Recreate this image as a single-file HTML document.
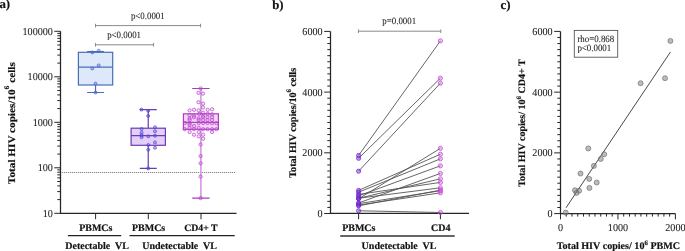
<!DOCTYPE html>
<html><head><meta charset="utf-8"><style>html,body{margin:0;padding:0;background:#fff;overflow:hidden;width:685px;height:251px}svg{display:block;will-change:transform}text{text-rendering:geometricPrecision;font-family:"Liberation Serif",serif;stroke:#161616;stroke-width:0.06px}text[font-weight=bold]{stroke-width:0.18px}</style></head>
<body><svg width="685" height="251" viewBox="0 0 685 251"><path d="M60.5 31.30V213.3H236.5" stroke="#262626" stroke-width="1.25" fill="none"/>
<path d="M54.3 213.30H60.5 M57.3 199.60H60.5 M57.3 191.59H60.5 M57.3 185.91H60.5 M57.3 181.50H60.5 M57.3 177.89H60.5 M57.3 174.85H60.5 M57.3 172.21H60.5 M57.3 169.88H60.5 M54.3 167.80H60.5 M57.3 154.10H60.5 M57.3 146.09H60.5 M57.3 140.41H60.5 M57.3 136.00H60.5 M57.3 132.39H60.5 M57.3 129.35H60.5 M57.3 126.71H60.5 M57.3 124.38H60.5 M54.3 122.30H60.5 M57.3 108.60H60.5 M57.3 100.59H60.5 M57.3 94.91H60.5 M57.3 90.50H60.5 M57.3 86.89H60.5 M57.3 83.85H60.5 M57.3 81.21H60.5 M57.3 78.88H60.5 M54.3 76.80H60.5 M57.3 63.10H60.5 M57.3 55.09H60.5 M57.3 49.41H60.5 M57.3 45.00H60.5 M57.3 41.39H60.5 M57.3 38.35H60.5 M57.3 35.71H60.5 M57.3 33.38H60.5 M54.3 31.30H60.5" stroke="#262626" stroke-width="1" fill="none"/>
<text transform="translate(52.90 216.90) scale(1 1.05)" font-family="Liberation Serif" font-size="10.15" text-anchor="end" fill="#1a1a1a">10</text>
<text transform="translate(52.90 171.40) scale(1 1.05)" font-family="Liberation Serif" font-size="10.15" text-anchor="end" fill="#1a1a1a">100</text>
<text transform="translate(52.90 125.90) scale(1 1.05)" font-family="Liberation Serif" font-size="10.15" text-anchor="end" fill="#1a1a1a">1000</text>
<text transform="translate(52.90 80.40) scale(1 1.05)" font-family="Liberation Serif" font-size="10.15" text-anchor="end" fill="#1a1a1a">10000</text>
<text transform="translate(52.90 34.90) scale(1 1.05)" font-family="Liberation Serif" font-size="10.15" text-anchor="end" fill="#1a1a1a">100000</text>
<path d="M95.6 213.3V219.2M148.3 213.3V219.2M201 213.3V219.2" stroke="#262626" stroke-width="1" fill="none"/>
<text x="95.8" y="230.6" font-family="Liberation Serif" font-weight="bold" font-size="10" text-anchor="middle" fill="#111">PBMCs</text>
<text x="148.6" y="230.6" font-family="Liberation Serif" font-weight="bold" font-size="10" text-anchor="middle" fill="#111">PBMCs</text>
<text x="200.9" y="230.6" font-family="Liberation Serif" font-weight="bold" font-size="9.8" text-anchor="middle" fill="#111">CD4+ T</text>
<path d="M67.9 235.6H121.2M129.5 235.6H234.7" stroke="#222" stroke-width="1.1" fill="none"/>
<text x="97.1" y="248.6" font-family="Liberation Serif" font-weight="bold" font-size="10" text-anchor="middle" fill="#111" xml:space="preserve">Detectable  VL</text>
<text x="179.6" y="248.6" font-family="Liberation Serif" font-weight="bold" font-size="10" text-anchor="middle" fill="#111" xml:space="preserve">Undetectable  VL</text>
<text transform="translate(14.7 123.1) rotate(-90) scale(1.12 1)" font-family="Liberation Serif" font-weight="bold" font-size="10" text-anchor="middle" fill="#111">Total HIV copies/10<tspan dy="-5.3" font-size="6.8">6</tspan><tspan dy="5.3"> cells</tspan></text>
<text x="-0.6" y="8.4" font-family="Liberation Serif" font-weight="bold" font-size="12.8" fill="#111">a)</text>
<path d="M61.9 172.5H235.5" stroke="#777" stroke-width="0.9" stroke-dasharray="1.2 0.8" fill="none"/>
<path d="M95.5 25.6H200.6M95.5 23.8V27.4M200.6 23.8V27.4M95.5 44.8H153.6M95.5 43V46.6M153.6 43V46.6" stroke="#8a8a8a" stroke-width="1" fill="none"/>
<text transform="translate(147.80 19.00) scale(1 1.08)" font-family="Liberation Serif" font-size="8.9" text-anchor="middle" fill="#1a1a1a">p&lt;0.0001</text>
<text transform="translate(124.10 38.20) scale(1 1.08)" font-family="Liberation Serif" font-size="8.9" text-anchor="middle" fill="#1a1a1a">p&lt;0.0001</text>
<path d="M95.55 51.5V52.3M95.55 85.0V92.5" stroke="#4a6eb4" stroke-width="1.2" fill="none"/><path d="M87.14999999999999 51.5H103.95M87.14999999999999 92.5H103.95" stroke="#4a6eb4" stroke-width="1.2" fill="none"/><rect x="78.4" y="52.3" width="34.3" height="32.7" fill="#dde9fa" stroke="#4a6eb4" stroke-width="1.2"/><path d="M78.4 67.2H112.69999999999999" stroke="#4a6eb4" stroke-width="1.2" fill="none"/>
<circle cx="92.30" cy="52.40" r="1.5" fill="#5a6ae6" stroke="#4c62d0" stroke-width="0.8" fill-opacity="0.38" stroke-opacity="0.9"/><circle cx="98.70" cy="50.80" r="1.5" fill="#5a6ae6" stroke="#4c62d0" stroke-width="0.8" fill-opacity="0.38" stroke-opacity="0.9"/><circle cx="98.70" cy="65.40" r="1.5" fill="#5a6ae6" stroke="#4c62d0" stroke-width="0.8" fill-opacity="0.38" stroke-opacity="0.9"/><circle cx="92.30" cy="68.50" r="1.5" fill="#5a6ae6" stroke="#4c62d0" stroke-width="0.8" fill-opacity="0.38" stroke-opacity="0.9"/><circle cx="95.50" cy="83.60" r="1.5" fill="#5a6ae6" stroke="#4c62d0" stroke-width="0.8" fill-opacity="0.38" stroke-opacity="0.9"/><circle cx="95.50" cy="92.50" r="1.5" fill="#5a6ae6" stroke="#4c62d0" stroke-width="0.8" fill-opacity="0.38" stroke-opacity="0.9"/>
<path d="M148.25 109.6V128.2M148.25 145.3V168.4" stroke="#6a3db0" stroke-width="1.2" fill="none"/><path d="M139.75 109.6H156.75M139.75 168.4H156.75" stroke="#6a3db0" stroke-width="1.2" fill="none"/><rect x="131.1" y="128.2" width="34.3" height="17.100000000000023" fill="#e4cff8" stroke="#6a3db0" stroke-width="1.2"/><path d="M131.1 135.6H165.4" stroke="#6a3db0" stroke-width="1.2" fill="none"/>
<circle cx="148.20" cy="168.40" r="1.5" fill="#5a4ee0" stroke="#5246d6" stroke-width="0.8" fill-opacity="0.35" stroke-opacity="0.9"/><circle cx="141.40" cy="109.60" r="1.5" fill="#5a4ee0" stroke="#5246d6" stroke-width="0.8" fill-opacity="0.35" stroke-opacity="0.9"/><circle cx="148.20" cy="110.80" r="1.5" fill="#5a4ee0" stroke="#5246d6" stroke-width="0.8" fill-opacity="0.35" stroke-opacity="0.9"/><circle cx="148.20" cy="115.90" r="1.5" fill="#5a4ee0" stroke="#5246d6" stroke-width="0.8" fill-opacity="0.35" stroke-opacity="0.9"/><circle cx="141.60" cy="129.00" r="1.5" fill="#5a4ee0" stroke="#5246d6" stroke-width="0.8" fill-opacity="0.35" stroke-opacity="0.9"/><circle cx="141.60" cy="132.70" r="1.5" fill="#5a4ee0" stroke="#5246d6" stroke-width="0.8" fill-opacity="0.35" stroke-opacity="0.9"/><circle cx="141.60" cy="135.20" r="1.5" fill="#5a4ee0" stroke="#5246d6" stroke-width="0.8" fill-opacity="0.35" stroke-opacity="0.9"/><circle cx="141.60" cy="137.20" r="1.5" fill="#5a4ee0" stroke="#5246d6" stroke-width="0.8" fill-opacity="0.35" stroke-opacity="0.9"/><circle cx="148.30" cy="136.30" r="1.5" fill="#5a4ee0" stroke="#5246d6" stroke-width="0.8" fill-opacity="0.35" stroke-opacity="0.9"/><circle cx="155.00" cy="127.30" r="1.5" fill="#5a4ee0" stroke="#5246d6" stroke-width="0.8" fill-opacity="0.35" stroke-opacity="0.9"/><circle cx="155.00" cy="131.30" r="1.5" fill="#5a4ee0" stroke="#5246d6" stroke-width="0.8" fill-opacity="0.35" stroke-opacity="0.9"/><circle cx="155.00" cy="135.70" r="1.5" fill="#5a4ee0" stroke="#5246d6" stroke-width="0.8" fill-opacity="0.35" stroke-opacity="0.9"/><circle cx="148.30" cy="145.00" r="1.5" fill="#5a4ee0" stroke="#5246d6" stroke-width="0.8" fill-opacity="0.35" stroke-opacity="0.9"/><circle cx="148.30" cy="149.70" r="1.5" fill="#5a4ee0" stroke="#5246d6" stroke-width="0.8" fill-opacity="0.35" stroke-opacity="0.9"/><circle cx="155.00" cy="142.40" r="1.5" fill="#5a4ee0" stroke="#5246d6" stroke-width="0.8" fill-opacity="0.35" stroke-opacity="0.9"/><circle cx="155.00" cy="147.70" r="1.5" fill="#5a4ee0" stroke="#5246d6" stroke-width="0.8" fill-opacity="0.35" stroke-opacity="0.9"/>
<path d="M200.9 88.5V113.8M200.9 129.3V198.1" stroke="#d49ade" stroke-width="1.6" fill="none"/><path d="M192.20000000000002 88.5H209.6M192.20000000000002 198.1H209.6" stroke="#a83cc0" stroke-width="1.2" fill="none"/><rect x="183.4" y="113.8" width="35.0" height="15.500000000000014" fill="#f6d4f6" stroke="#ad3fc2" stroke-width="1.2"/><path d="M183.4 122.4H218.4" stroke="#ad3fc2" stroke-width="1.2" fill="none"/>
<circle cx="200.70" cy="88.50" r="1.65" fill="#d455e2" stroke="#b444cc" stroke-width="0.85" fill-opacity="0.16" stroke-opacity="0.85"/><circle cx="198.50" cy="92.90" r="1.65" fill="#d455e2" stroke="#b444cc" stroke-width="0.85" fill-opacity="0.16" stroke-opacity="0.85"/><circle cx="203.00" cy="93.60" r="1.65" fill="#d455e2" stroke="#b444cc" stroke-width="0.85" fill-opacity="0.16" stroke-opacity="0.85"/><circle cx="198.50" cy="102.20" r="1.65" fill="#d455e2" stroke="#b444cc" stroke-width="0.85" fill-opacity="0.16" stroke-opacity="0.85"/><circle cx="203.00" cy="103.70" r="1.65" fill="#d455e2" stroke="#b444cc" stroke-width="0.85" fill-opacity="0.16" stroke-opacity="0.85"/><circle cx="203.00" cy="107.40" r="1.65" fill="#d455e2" stroke="#b444cc" stroke-width="0.85" fill-opacity="0.16" stroke-opacity="0.85"/><circle cx="189.60" cy="110.40" r="1.65" fill="#d455e2" stroke="#b444cc" stroke-width="0.85" fill-opacity="0.16" stroke-opacity="0.85"/><circle cx="194.00" cy="109.80" r="1.65" fill="#d455e2" stroke="#b444cc" stroke-width="0.85" fill-opacity="0.16" stroke-opacity="0.85"/><circle cx="198.60" cy="110.40" r="1.65" fill="#d455e2" stroke="#b444cc" stroke-width="0.85" fill-opacity="0.16" stroke-opacity="0.85"/><circle cx="207.70" cy="109.80" r="1.65" fill="#d455e2" stroke="#b444cc" stroke-width="0.85" fill-opacity="0.16" stroke-opacity="0.85"/><circle cx="212.10" cy="109.30" r="1.65" fill="#d455e2" stroke="#b444cc" stroke-width="0.85" fill-opacity="0.16" stroke-opacity="0.85"/><circle cx="203.10" cy="112.70" r="1.65" fill="#d455e2" stroke="#b444cc" stroke-width="0.85" fill-opacity="0.16" stroke-opacity="0.85"/><circle cx="199.10" cy="113.90" r="1.65" fill="#d455e2" stroke="#b444cc" stroke-width="0.85" fill-opacity="0.16" stroke-opacity="0.85"/><circle cx="207.70" cy="113.90" r="1.65" fill="#d455e2" stroke="#b444cc" stroke-width="0.85" fill-opacity="0.16" stroke-opacity="0.85"/><circle cx="212.10" cy="114.30" r="1.65" fill="#d455e2" stroke="#b444cc" stroke-width="0.85" fill-opacity="0.16" stroke-opacity="0.85"/><circle cx="189.60" cy="115.30" r="1.65" fill="#d455e2" stroke="#b444cc" stroke-width="0.85" fill-opacity="0.16" stroke-opacity="0.85"/><circle cx="194.00" cy="115.50" r="1.65" fill="#d455e2" stroke="#b444cc" stroke-width="0.85" fill-opacity="0.16" stroke-opacity="0.85"/><circle cx="203.10" cy="115.60" r="1.65" fill="#d455e2" stroke="#b444cc" stroke-width="0.85" fill-opacity="0.16" stroke-opacity="0.85"/><circle cx="194.00" cy="117.20" r="1.65" fill="#d455e2" stroke="#b444cc" stroke-width="0.85" fill-opacity="0.16" stroke-opacity="0.85"/><circle cx="203.10" cy="117.20" r="1.65" fill="#d455e2" stroke="#b444cc" stroke-width="0.85" fill-opacity="0.16" stroke-opacity="0.85"/><circle cx="207.50" cy="117.20" r="1.65" fill="#d455e2" stroke="#b444cc" stroke-width="0.85" fill-opacity="0.16" stroke-opacity="0.85"/><circle cx="212.10" cy="117.20" r="1.65" fill="#d455e2" stroke="#b444cc" stroke-width="0.85" fill-opacity="0.16" stroke-opacity="0.85"/><circle cx="189.60" cy="118.40" r="1.65" fill="#d455e2" stroke="#b444cc" stroke-width="0.85" fill-opacity="0.16" stroke-opacity="0.85"/><circle cx="198.70" cy="118.40" r="1.65" fill="#d455e2" stroke="#b444cc" stroke-width="0.85" fill-opacity="0.16" stroke-opacity="0.85"/><circle cx="189.60" cy="120.00" r="1.65" fill="#d455e2" stroke="#b444cc" stroke-width="0.85" fill-opacity="0.16" stroke-opacity="0.85"/><circle cx="198.70" cy="120.00" r="1.65" fill="#d455e2" stroke="#b444cc" stroke-width="0.85" fill-opacity="0.16" stroke-opacity="0.85"/><circle cx="203.10" cy="120.00" r="1.65" fill="#d455e2" stroke="#b444cc" stroke-width="0.85" fill-opacity="0.16" stroke-opacity="0.85"/><circle cx="207.50" cy="120.00" r="1.65" fill="#d455e2" stroke="#b444cc" stroke-width="0.85" fill-opacity="0.16" stroke-opacity="0.85"/><circle cx="212.10" cy="120.00" r="1.65" fill="#d455e2" stroke="#b444cc" stroke-width="0.85" fill-opacity="0.16" stroke-opacity="0.85"/><circle cx="184.80" cy="123.00" r="1.65" fill="#d455e2" stroke="#b444cc" stroke-width="0.85" fill-opacity="0.16" stroke-opacity="0.85"/><circle cx="189.60" cy="123.20" r="1.65" fill="#d455e2" stroke="#b444cc" stroke-width="0.85" fill-opacity="0.16" stroke-opacity="0.85"/><circle cx="198.70" cy="123.00" r="1.65" fill="#d455e2" stroke="#b444cc" stroke-width="0.85" fill-opacity="0.16" stroke-opacity="0.85"/><circle cx="203.10" cy="123.00" r="1.65" fill="#d455e2" stroke="#b444cc" stroke-width="0.85" fill-opacity="0.16" stroke-opacity="0.85"/><circle cx="207.50" cy="123.00" r="1.65" fill="#d455e2" stroke="#b444cc" stroke-width="0.85" fill-opacity="0.16" stroke-opacity="0.85"/><circle cx="212.10" cy="123.20" r="1.65" fill="#d455e2" stroke="#b444cc" stroke-width="0.85" fill-opacity="0.16" stroke-opacity="0.85"/><circle cx="216.40" cy="123.20" r="1.65" fill="#d455e2" stroke="#b444cc" stroke-width="0.85" fill-opacity="0.16" stroke-opacity="0.85"/><circle cx="194.00" cy="126.00" r="1.65" fill="#d455e2" stroke="#b444cc" stroke-width="0.85" fill-opacity="0.16" stroke-opacity="0.85"/><circle cx="189.60" cy="125.00" r="1.65" fill="#d455e2" stroke="#b444cc" stroke-width="0.85" fill-opacity="0.16" stroke-opacity="0.85"/><circle cx="189.60" cy="128.00" r="1.65" fill="#d455e2" stroke="#b444cc" stroke-width="0.85" fill-opacity="0.16" stroke-opacity="0.85"/><circle cx="198.70" cy="128.00" r="1.65" fill="#d455e2" stroke="#b444cc" stroke-width="0.85" fill-opacity="0.16" stroke-opacity="0.85"/><circle cx="184.80" cy="129.20" r="1.65" fill="#d455e2" stroke="#b444cc" stroke-width="0.85" fill-opacity="0.16" stroke-opacity="0.85"/><circle cx="194.00" cy="129.20" r="1.65" fill="#d455e2" stroke="#b444cc" stroke-width="0.85" fill-opacity="0.16" stroke-opacity="0.85"/><circle cx="203.10" cy="129.20" r="1.65" fill="#d455e2" stroke="#b444cc" stroke-width="0.85" fill-opacity="0.16" stroke-opacity="0.85"/><circle cx="207.50" cy="129.20" r="1.65" fill="#d455e2" stroke="#b444cc" stroke-width="0.85" fill-opacity="0.16" stroke-opacity="0.85"/><circle cx="212.10" cy="129.20" r="1.65" fill="#d455e2" stroke="#b444cc" stroke-width="0.85" fill-opacity="0.16" stroke-opacity="0.85"/><circle cx="216.40" cy="129.20" r="1.65" fill="#d455e2" stroke="#b444cc" stroke-width="0.85" fill-opacity="0.16" stroke-opacity="0.85"/><circle cx="189.60" cy="132.00" r="1.65" fill="#d455e2" stroke="#b444cc" stroke-width="0.85" fill-opacity="0.16" stroke-opacity="0.85"/><circle cx="198.70" cy="132.00" r="1.65" fill="#d455e2" stroke="#b444cc" stroke-width="0.85" fill-opacity="0.16" stroke-opacity="0.85"/><circle cx="212.10" cy="132.00" r="1.65" fill="#d455e2" stroke="#b444cc" stroke-width="0.85" fill-opacity="0.16" stroke-opacity="0.85"/><circle cx="194.00" cy="134.70" r="1.65" fill="#d455e2" stroke="#b444cc" stroke-width="0.85" fill-opacity="0.16" stroke-opacity="0.85"/><circle cx="203.10" cy="134.70" r="1.65" fill="#d455e2" stroke="#b444cc" stroke-width="0.85" fill-opacity="0.16" stroke-opacity="0.85"/><circle cx="198.70" cy="136.30" r="1.65" fill="#d455e2" stroke="#b444cc" stroke-width="0.85" fill-opacity="0.16" stroke-opacity="0.85"/><circle cx="203.10" cy="138.70" r="1.65" fill="#d455e2" stroke="#b444cc" stroke-width="0.85" fill-opacity="0.16" stroke-opacity="0.85"/><circle cx="200.60" cy="144.50" r="1.65" fill="#d455e2" stroke="#b444cc" stroke-width="0.85" fill-opacity="0.16" stroke-opacity="0.85"/><circle cx="200.60" cy="156.10" r="1.65" fill="#d455e2" stroke="#b444cc" stroke-width="0.85" fill-opacity="0.16" stroke-opacity="0.85"/><circle cx="200.60" cy="163.30" r="1.65" fill="#d455e2" stroke="#b444cc" stroke-width="0.85" fill-opacity="0.16" stroke-opacity="0.85"/><circle cx="200.60" cy="176.60" r="1.65" fill="#d455e2" stroke="#b444cc" stroke-width="0.85" fill-opacity="0.16" stroke-opacity="0.85"/><circle cx="200.60" cy="198.10" r="1.65" fill="#d455e2" stroke="#b444cc" stroke-width="0.85" fill-opacity="0.16" stroke-opacity="0.85"/>
<path d="M330.5 31.4V213.3H469" stroke="#262626" stroke-width="1.25" fill="none"/>
<path d="M324.2 213.50H330.5 M327.3 207.43H330.5 M327.3 201.36H330.5 M327.3 195.29H330.5 M327.3 189.22H330.5 M327.3 183.15H330.5 M327.3 177.08H330.5 M327.3 171.01H330.5 M327.3 164.94H330.5 M327.3 158.87H330.5 M324.2 152.80H330.5 M327.3 146.73H330.5 M327.3 140.66H330.5 M327.3 134.59H330.5 M327.3 128.52H330.5 M327.3 122.45H330.5 M327.3 116.38H330.5 M327.3 110.31H330.5 M327.3 104.24H330.5 M327.3 98.17H330.5 M324.2 92.10H330.5 M327.3 86.03H330.5 M327.3 79.96H330.5 M327.3 73.89H330.5 M327.3 67.82H330.5 M327.3 61.75H330.5 M327.3 55.68H330.5 M327.3 49.61H330.5 M327.3 43.54H330.5 M327.3 37.47H330.5 M324.2 31.40H330.5" stroke="#262626" stroke-width="1" fill="none"/>
<text transform="translate(322.60 217.10) scale(1 1.05)" font-family="Liberation Serif" font-size="10.15" text-anchor="end" fill="#1a1a1a">0</text>
<text transform="translate(322.60 156.40) scale(1 1.05)" font-family="Liberation Serif" font-size="10.15" text-anchor="end" fill="#1a1a1a">2000</text>
<text transform="translate(322.60 95.70) scale(1 1.05)" font-family="Liberation Serif" font-size="10.15" text-anchor="end" fill="#1a1a1a">4000</text>
<text transform="translate(322.60 35.00) scale(1 1.05)" font-family="Liberation Serif" font-size="10.15" text-anchor="end" fill="#1a1a1a">6000</text>
<path d="M358.6 213.3V219.2M440.4 213.3V219.2" stroke="#262626" stroke-width="1" fill="none"/>
<text x="358.8" y="230.5" font-family="Liberation Serif" font-weight="bold" font-size="10" text-anchor="middle" fill="#111">PBMCs</text>
<text x="440.7" y="230.5" font-family="Liberation Serif" font-weight="bold" font-size="10" text-anchor="middle" fill="#111">CD4</text>
<path d="M340.2 236H454.7" stroke="#333" stroke-width="1.3" fill="none"/>
<text x="399" y="249" font-family="Liberation Serif" font-weight="bold" font-size="10" text-anchor="middle" fill="#111" xml:space="preserve">Undetectable  VL</text>
<text transform="translate(295.7 122.8) rotate(-90) scale(1.01 1)" font-family="Liberation Serif" font-weight="bold" font-size="10" text-anchor="middle" fill="#111">Total HIV copies/10<tspan dy="-5.1" font-size="6.8">6</tspan><tspan dy="5.1"> cells</tspan></text>
<text x="272.2" y="8.5" font-family="Liberation Serif" font-weight="bold" font-size="12.8" fill="#111">b)</text>
<path d="M358.4 31.2H440.8M358.4 29.4V33M440.8 29.4V33" stroke="#8a8a8a" stroke-width="1" fill="none"/>
<text transform="translate(399.20 24.40) scale(1 1.08)" font-family="Liberation Serif" font-size="8.9" text-anchor="middle" fill="#1a1a1a">p=0.0001</text>
<path d="M358.6 210.75L440.4 212.50M358.6 205.85L440.4 190.13M358.6 203.67L440.4 190.71M358.6 205.06L440.4 192.80M358.6 198.23L440.4 187.82M358.6 194.38L440.4 182.42M358.6 198.32L440.4 178.81M358.6 202.94L440.4 173.44M358.6 195.87L440.4 165.82M358.6 192.22L440.4 158.84M358.6 190.40L440.4 154.23M358.6 198.81L440.4 148.34M358.6 171.19L440.4 83.18M358.6 158.29L440.4 78.17M358.6 155.44L440.4 40.90" stroke="#555" stroke-width="0.9" fill="none"/>
<circle cx="358.60" cy="210.75" r="2.1" fill="#7d2cdc" stroke="#6c22cc" stroke-width="0.8" fill-opacity="0.45" stroke-opacity="0.9"/><circle cx="358.60" cy="205.85" r="2.1" fill="#7d2cdc" stroke="#6c22cc" stroke-width="0.8" fill-opacity="0.45" stroke-opacity="0.9"/><circle cx="358.60" cy="203.67" r="2.1" fill="#7d2cdc" stroke="#6c22cc" stroke-width="0.8" fill-opacity="0.45" stroke-opacity="0.9"/><circle cx="358.60" cy="205.06" r="2.1" fill="#7d2cdc" stroke="#6c22cc" stroke-width="0.8" fill-opacity="0.45" stroke-opacity="0.9"/><circle cx="358.60" cy="198.23" r="2.1" fill="#7d2cdc" stroke="#6c22cc" stroke-width="0.8" fill-opacity="0.45" stroke-opacity="0.9"/><circle cx="358.60" cy="194.38" r="2.1" fill="#7d2cdc" stroke="#6c22cc" stroke-width="0.8" fill-opacity="0.45" stroke-opacity="0.9"/><circle cx="358.60" cy="198.32" r="2.1" fill="#7d2cdc" stroke="#6c22cc" stroke-width="0.8" fill-opacity="0.45" stroke-opacity="0.9"/><circle cx="358.60" cy="202.94" r="2.1" fill="#7d2cdc" stroke="#6c22cc" stroke-width="0.8" fill-opacity="0.45" stroke-opacity="0.9"/><circle cx="358.60" cy="195.87" r="2.1" fill="#7d2cdc" stroke="#6c22cc" stroke-width="0.8" fill-opacity="0.45" stroke-opacity="0.9"/><circle cx="358.60" cy="192.22" r="2.1" fill="#7d2cdc" stroke="#6c22cc" stroke-width="0.8" fill-opacity="0.45" stroke-opacity="0.9"/><circle cx="358.60" cy="190.40" r="2.1" fill="#7d2cdc" stroke="#6c22cc" stroke-width="0.8" fill-opacity="0.45" stroke-opacity="0.9"/><circle cx="358.60" cy="198.81" r="2.1" fill="#7d2cdc" stroke="#6c22cc" stroke-width="0.8" fill-opacity="0.45" stroke-opacity="0.9"/><circle cx="358.60" cy="171.19" r="2.1" fill="#7d2cdc" stroke="#6c22cc" stroke-width="0.8" fill-opacity="0.45" stroke-opacity="0.9"/><circle cx="358.60" cy="158.29" r="2.1" fill="#7d2cdc" stroke="#6c22cc" stroke-width="0.8" fill-opacity="0.45" stroke-opacity="0.9"/><circle cx="358.60" cy="155.44" r="2.1" fill="#7d2cdc" stroke="#6c22cc" stroke-width="0.8" fill-opacity="0.45" stroke-opacity="0.9"/>
<circle cx="440.40" cy="212.50" r="2.1" fill="#d455e2" stroke="#c04ad4" stroke-width="0.85" fill-opacity="0.33" stroke-opacity="0.9"/><circle cx="440.40" cy="190.13" r="2.1" fill="#d455e2" stroke="#c04ad4" stroke-width="0.85" fill-opacity="0.33" stroke-opacity="0.9"/><circle cx="440.40" cy="190.71" r="2.1" fill="#d455e2" stroke="#c04ad4" stroke-width="0.85" fill-opacity="0.33" stroke-opacity="0.9"/><circle cx="440.40" cy="192.80" r="2.1" fill="#d455e2" stroke="#c04ad4" stroke-width="0.85" fill-opacity="0.33" stroke-opacity="0.9"/><circle cx="440.40" cy="187.82" r="2.1" fill="#d455e2" stroke="#c04ad4" stroke-width="0.85" fill-opacity="0.33" stroke-opacity="0.9"/><circle cx="440.40" cy="182.42" r="2.1" fill="#d455e2" stroke="#c04ad4" stroke-width="0.85" fill-opacity="0.33" stroke-opacity="0.9"/><circle cx="440.40" cy="178.81" r="2.1" fill="#d455e2" stroke="#c04ad4" stroke-width="0.85" fill-opacity="0.33" stroke-opacity="0.9"/><circle cx="440.40" cy="173.44" r="2.1" fill="#d455e2" stroke="#c04ad4" stroke-width="0.85" fill-opacity="0.33" stroke-opacity="0.9"/><circle cx="440.40" cy="165.82" r="2.1" fill="#d455e2" stroke="#c04ad4" stroke-width="0.85" fill-opacity="0.33" stroke-opacity="0.9"/><circle cx="440.40" cy="158.84" r="2.1" fill="#d455e2" stroke="#c04ad4" stroke-width="0.85" fill-opacity="0.33" stroke-opacity="0.9"/><circle cx="440.40" cy="154.23" r="2.1" fill="#d455e2" stroke="#c04ad4" stroke-width="0.85" fill-opacity="0.33" stroke-opacity="0.9"/><circle cx="440.40" cy="148.34" r="2.1" fill="#d455e2" stroke="#c04ad4" stroke-width="0.85" fill-opacity="0.33" stroke-opacity="0.9"/><circle cx="440.40" cy="83.18" r="2.1" fill="#d455e2" stroke="#c04ad4" stroke-width="0.85" fill-opacity="0.33" stroke-opacity="0.9"/><circle cx="440.40" cy="78.17" r="2.1" fill="#d455e2" stroke="#c04ad4" stroke-width="0.85" fill-opacity="0.33" stroke-opacity="0.9"/><circle cx="440.40" cy="40.90" r="2.1" fill="#d455e2" stroke="#c04ad4" stroke-width="0.85" fill-opacity="0.33" stroke-opacity="0.9"/>
<path d="M560.5 31.4V213.6H675.4" stroke="#262626" stroke-width="1.25" fill="none"/>
<path d="M554.2 213.60H560.5 M557.3 207.53H560.5 M557.3 201.45H560.5 M557.3 195.38H560.5 M557.3 189.31H560.5 M557.3 183.23H560.5 M557.3 177.16H560.5 M557.3 171.09H560.5 M557.3 165.01H560.5 M557.3 158.94H560.5 M554.2 152.87H560.5 M557.3 146.79H560.5 M557.3 140.72H560.5 M557.3 134.65H560.5 M557.3 128.57H560.5 M557.3 122.50H560.5 M557.3 116.43H560.5 M557.3 110.35H560.5 M557.3 104.28H560.5 M557.3 98.21H560.5 M554.2 92.13H560.5 M557.3 86.06H560.5 M557.3 79.99H560.5 M557.3 73.91H560.5 M557.3 67.84H560.5 M557.3 61.77H560.5 M557.3 55.69H560.5 M557.3 49.62H560.5 M557.3 43.55H560.5 M557.3 37.47H560.5 M554.2 31.40H560.5 M560.50 213.6V219.4 M566.25 213.6V216.6 M571.99 213.6V216.6 M577.74 213.6V216.6 M583.48 213.6V216.6 M589.23 213.6V216.6 M594.97 213.6V216.6 M600.72 213.6V216.6 M606.46 213.6V216.6 M612.21 213.6V216.6 M617.95 213.6V219.4 M623.70 213.6V216.6 M629.44 213.6V216.6 M635.18 213.6V216.6 M640.93 213.6V216.6 M646.67 213.6V216.6 M652.42 213.6V216.6 M658.16 213.6V216.6 M663.91 213.6V216.6 M669.65 213.6V216.6 M675.40 213.6V219.4" stroke="#262626" stroke-width="1" fill="none"/>
<text transform="translate(552.60 217.20) scale(1 1.05)" font-family="Liberation Serif" font-size="10.15" text-anchor="end" fill="#1a1a1a">0</text>
<text transform="translate(552.60 156.47) scale(1 1.05)" font-family="Liberation Serif" font-size="10.15" text-anchor="end" fill="#1a1a1a">2000</text>
<text transform="translate(552.60 95.73) scale(1 1.05)" font-family="Liberation Serif" font-size="10.15" text-anchor="end" fill="#1a1a1a">4000</text>
<text transform="translate(552.60 35.00) scale(1 1.05)" font-family="Liberation Serif" font-size="10.15" text-anchor="end" fill="#1a1a1a">6000</text>
<text transform="translate(560.50 230.80) scale(1 1.05)" font-family="Liberation Serif" font-size="10.15" text-anchor="middle" fill="#1a1a1a">0</text>
<text transform="translate(617.95 230.80) scale(1 1.05)" font-family="Liberation Serif" font-size="10.15" text-anchor="middle" fill="#1a1a1a">1000</text>
<text transform="translate(675.40 230.80) scale(1 1.05)" font-family="Liberation Serif" font-size="10.15" text-anchor="middle" fill="#1a1a1a">2000</text>
<text x="618.4" y="248.9" font-family="Liberation Serif" font-weight="bold" font-size="10.1" text-anchor="middle" fill="#111">Total HIV copies/ 10<tspan dy="-4.4" font-size="6.8">6</tspan><tspan dy="4.4"> PBMC</tspan></text>
<text transform="translate(525.1 123) rotate(-90) scale(1.025 1)" font-family="Liberation Serif" font-weight="bold" font-size="9.8" text-anchor="middle" fill="#111">Total HIV copies/ 10<tspan dy="-4.4" font-size="6.7">6</tspan><tspan dy="4.4"> CD4+ T</tspan></text>
<text x="500.6" y="8.5" font-family="Liberation Serif" font-weight="bold" font-size="12.8" fill="#111">c)</text>
<rect x="574.3" y="30.4" width="43.4" height="26.8" fill="#fff" stroke="#555" stroke-width="0.9"/>
<text transform="translate(577.40 41.60) scale(1 1.08)" font-family="Liberation Serif" font-size="8.9" text-anchor="start" fill="#1a1a1a">rho=0.868</text>
<text transform="translate(577.40 51.00) scale(1 1.08)" font-family="Liberation Serif" font-size="8.9" text-anchor="start" fill="#1a1a1a">p&lt;0.0001</text>
<path d="M566 207.8L670.4 52.1" stroke="#333" stroke-width="0.9" fill="none"/>
<circle cx="565.70" cy="212.60" r="2.5" fill="#858585" stroke="#606060" stroke-width="0.7" fill-opacity="0.55" stroke-opacity="0.85"/><circle cx="574.98" cy="190.22" r="2.5" fill="#858585" stroke="#606060" stroke-width="0.7" fill-opacity="0.55" stroke-opacity="0.85"/><circle cx="579.11" cy="190.79" r="2.5" fill="#858585" stroke="#606060" stroke-width="0.7" fill-opacity="0.55" stroke-opacity="0.85"/><circle cx="576.47" cy="192.89" r="2.5" fill="#858585" stroke="#606060" stroke-width="0.7" fill-opacity="0.55" stroke-opacity="0.85"/><circle cx="589.40" cy="187.91" r="2.5" fill="#858585" stroke="#606060" stroke-width="0.7" fill-opacity="0.55" stroke-opacity="0.85"/><circle cx="596.69" cy="182.50" r="2.5" fill="#858585" stroke="#606060" stroke-width="0.7" fill-opacity="0.55" stroke-opacity="0.85"/><circle cx="589.23" cy="178.89" r="2.5" fill="#858585" stroke="#606060" stroke-width="0.7" fill-opacity="0.55" stroke-opacity="0.85"/><circle cx="580.49" cy="173.52" r="2.5" fill="#858585" stroke="#606060" stroke-width="0.7" fill-opacity="0.55" stroke-opacity="0.85"/><circle cx="593.88" cy="165.89" r="2.5" fill="#858585" stroke="#606060" stroke-width="0.7" fill-opacity="0.55" stroke-opacity="0.85"/><circle cx="600.77" cy="158.91" r="2.5" fill="#858585" stroke="#606060" stroke-width="0.7" fill-opacity="0.55" stroke-opacity="0.85"/><circle cx="604.22" cy="154.29" r="2.5" fill="#858585" stroke="#606060" stroke-width="0.7" fill-opacity="0.55" stroke-opacity="0.85"/><circle cx="588.31" cy="148.40" r="2.5" fill="#858585" stroke="#606060" stroke-width="0.7" fill-opacity="0.55" stroke-opacity="0.85"/><circle cx="640.59" cy="83.21" r="2.5" fill="#858585" stroke="#606060" stroke-width="0.7" fill-opacity="0.55" stroke-opacity="0.85"/><circle cx="665.00" cy="78.20" r="2.5" fill="#858585" stroke="#606060" stroke-width="0.7" fill-opacity="0.55" stroke-opacity="0.85"/><circle cx="670.40" cy="40.90" r="2.5" fill="#858585" stroke="#606060" stroke-width="0.7" fill-opacity="0.55" stroke-opacity="0.85"/></svg></body></html>
